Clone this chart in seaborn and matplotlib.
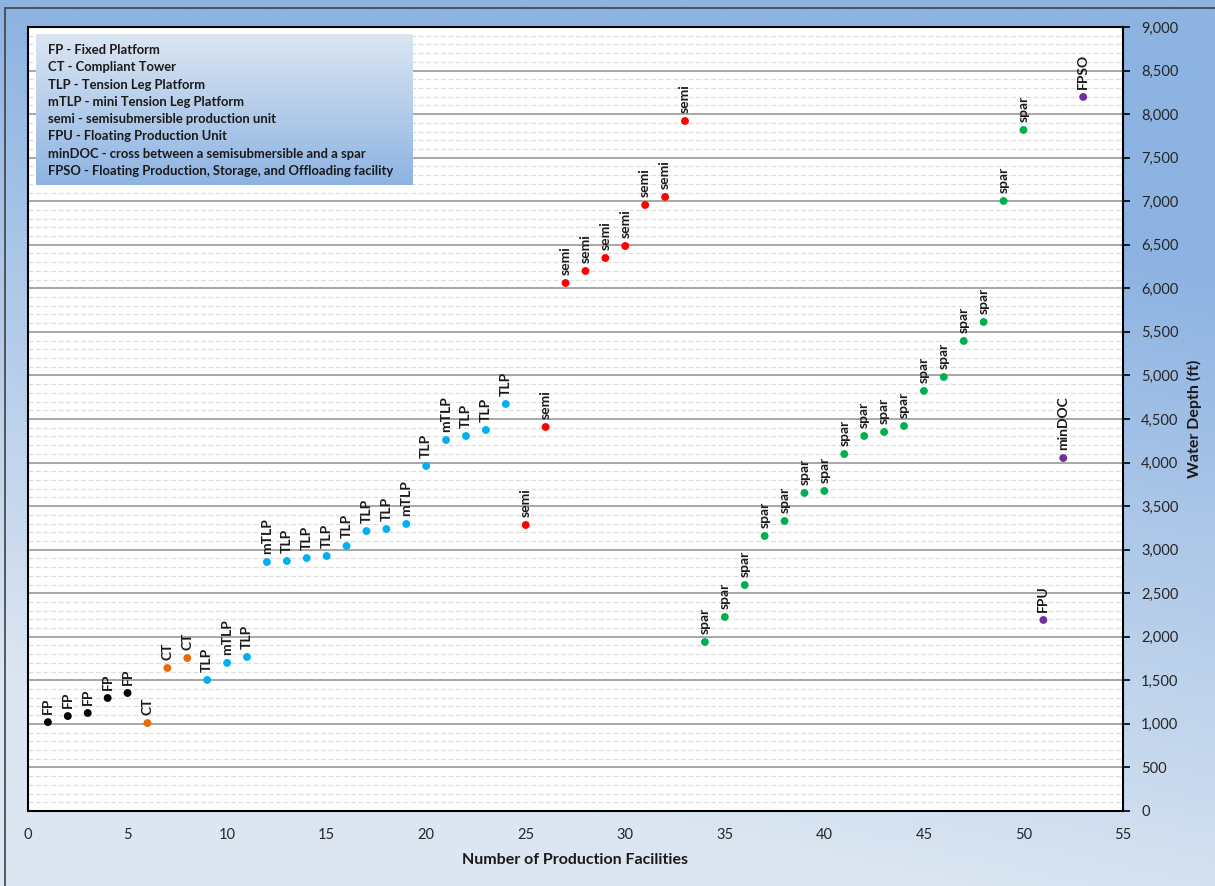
import numpy as np
import pandas as pd
import seaborn as sns
import matplotlib.pyplot as plt
from matplotlib.ticker import MultipleLocator, FuncFormatter
from matplotlib.colors import LinearSegmentedColormap
from matplotlib.patches import Rectangle

sns.set_theme(style="white")
plt.rcParams['font.family'] = ['Lato', 'DejaVu Sans']

# facility number, water depth (ft), platform type
facility = list(range(1, 54))
depth = [1020, 1090, 1125, 1297, 1355, 1010, 1642, 1756, 1504, 1700,
         1768, 2858, 2870, 2904, 2927, 3042, 3214, 3237, 3295, 3960,
         4259, 4305, 4374, 4672, 3283, 4408, 6061, 6199, 6348, 6486,
         6957, 7049, 7921, 1940, 2227, 2594, 3157, 3329, 3651, 3674,
         4098, 4305, 4351, 4420, 4822, 4982, 5396, 5614, 7003, 7818,
         2193, 4052, 8197]
kind = (["FP"] * 5 + ["CT"] * 3 + ["TLP", "mTLP", "TLP", "mTLP", "TLP", "TLP", "TLP",
        "TLP", "TLP", "TLP", "mTLP", "TLP", "mTLP", "TLP", "TLP", "TLP"]
        + ["semi"] * 9 + ["spar"] * 17 + ["FPU", "minDOC", "FPSO"])

legend_lines = [
    "FP - Fixed Platform",
    "CT - Compliant Tower",
    "TLP - Tension Leg Platform",
    "mTLP - mini Tension Leg Platform",
    "semi - semisubmersible production unit",
    "FPU - Floating Production Unit",
    "minDOC - cross between a semisubmersible and a spar",
    "FPSO - Floating Production, Storage, and Offloading facility",
]

colors = {"FP": "#000000", "CT": "#E46C0A", "TLP": "#00B0F0", "mTLP": "#00B0F0",
          "semi": "#FF0000", "spar": "#00B050", "FPU": "#7030A0",
          "minDOC": "#7030A0", "FPSO": "#7030A0"}

df = pd.DataFrame({"n": facility, "depth": depth, "kind": kind})

W, H = 1215, 886
fig = plt.figure(figsize=(W / 100, H / 100), dpi=100)

# page background gradient (darker blue towards the top right)
bg = fig.add_axes([0, 0, 1, 1], zorder=0)
cmap = LinearSegmentedColormap.from_list("bg", ["#8DB3E2", "#DCE6F2"])
yy, xx = np.mgrid[0:1:300j, 0:1:300j]
t = np.clip(yy * 1.3 - 0.4 * xx, 0, 1)
bg.imshow(t, aspect="auto", cmap=cmap, extent=[0, 1, 0, 1], origin="upper", vmin=0, vmax=1)
bg.set_axis_off()
fig.patches.append(Rectangle((5 / W, -0.1), 1.2, 1.1 - 8 / H, transform=fig.transFigure,
                             fill=False, edgecolor="#404040", lw=1.2, zorder=1))

ax = fig.add_axes([28 / W, 1 - 811 / H, (1123 - 28) / W, (811 - 27) / H], zorder=2)
ax.set_facecolor("white")

sns.scatterplot(data=df, x="n", y="depth", hue="kind", palette=colors,
                s=32, edgecolor="none", legend=False, ax=ax, zorder=3)

for n, d, k in zip(facility, depth, kind):
    ax.annotate(k, (n, d), xytext=(0, 6), textcoords="offset points",
                rotation=90, ha="center", va="bottom", fontsize=10,
                fontweight="bold", color="#1a1a1a", zorder=4)

ax.set_xlim(0, 55)
ax.set_ylim(0, 9000)
ax.xaxis.set_major_locator(MultipleLocator(5))
ax.xaxis.set_minor_locator(MultipleLocator(1))
ax.yaxis.set_major_locator(MultipleLocator(500))
ax.yaxis.set_minor_locator(MultipleLocator(100))
ax.yaxis.set_major_formatter(FuncFormatter(lambda v, p: f"{int(v):,}"))
ax.yaxis.tick_right()
ax.yaxis.set_label_position("right")

ax.grid(which="major", axis="y", color="#A0A0A0", lw=1.3, zorder=1)
ax.grid(which="minor", axis="y", color="#DDDDDD", lw=0.9, ls=(0, (4, 2)), zorder=1)
ax.grid(which="both", axis="x", visible=False)
ax.set_axisbelow(True)

for sp in ax.spines.values():
    sp.set_color("black")
    sp.set_linewidth(1.5)

ax.tick_params(axis="x", which="major", direction="out", length=5, width=1.2,
               color="black", labelsize=10.5, pad=7, labelcolor="#262626")
ax.tick_params(axis="x", which="minor", direction="out", length=3, width=1, color="black")
ax.tick_params(axis="y", which="major", direction="out", length=5, width=1.2,
               color="black", labelsize=10.5, pad=8, labelcolor="#262626", right=True, left=False)
ax.tick_params(axis="y", which="minor", length=0)

ax.set_xlabel("Number of Production Facilities", fontsize=11.5, fontweight="bold",
              labelpad=8, color="#1a1a1a")
ax.set_ylabel("Water Depth (ft)", fontsize=11.5, fontweight="bold", labelpad=6,
              color="#1a1a1a")

# key box with gradient
kx0, ky0, kx1, ky1 = 36, 34, 413, 185
kax = fig.add_axes([kx0 / W, 1 - ky1 / H, (kx1 - kx0) / W, (ky1 - ky0) / H], zorder=5)
kcmap = LinearSegmentedColormap.from_list("key", ["#DCE6F2", "#8DB3E2"])
kgrad = np.linspace(0, 1, 256).reshape(-1, 1)
kax.imshow(kgrad, aspect="auto", cmap=kcmap, extent=[0, 1, 0, 1], origin="upper")
kax.set_axis_off()
for i, line in enumerate(legend_lines):
    ly = 50 + i * 17.3
    kax.text((48 - kx0) / (kx1 - kx0), 1 - (ly - ky0) / (ky1 - ky0), line,
             transform=kax.transAxes, ha="left", va="center", fontsize=9.4,
             fontweight="bold", color="#1a1a1a")

fig.savefig("out.png", dpi=100)
